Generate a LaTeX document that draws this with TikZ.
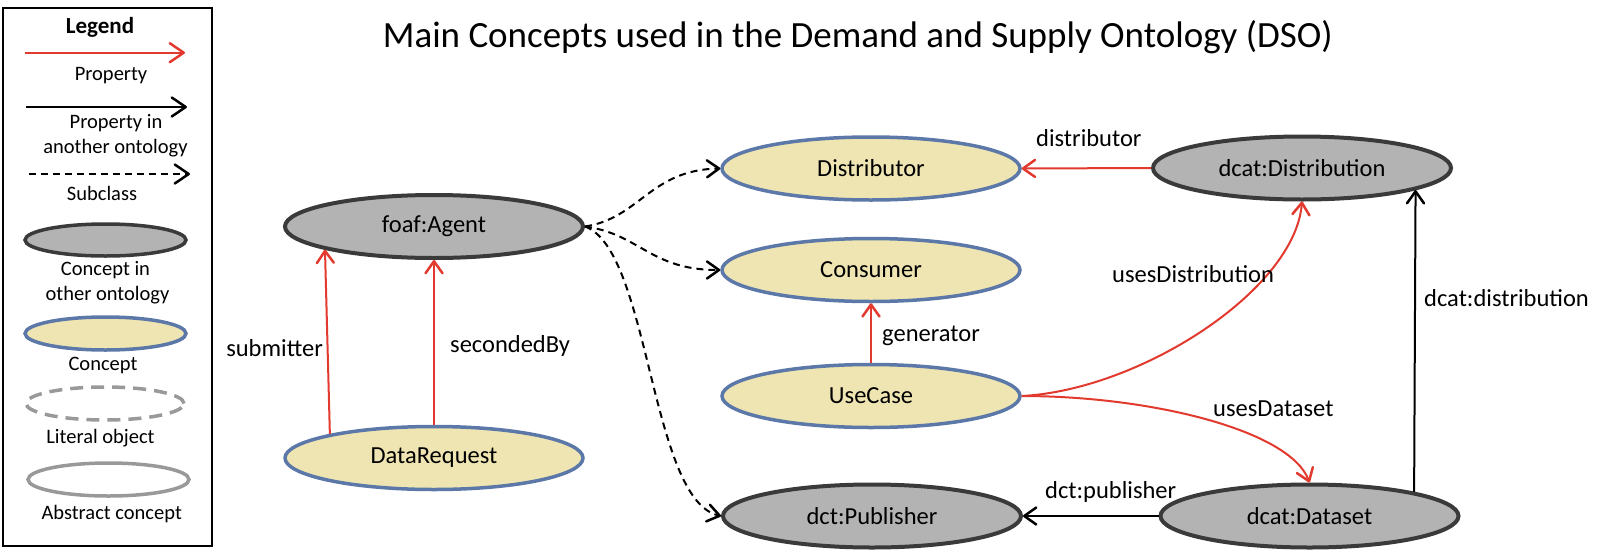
\documentclass[tikz,border=0pt]{standalone}
\usepackage{fontspec}
\setmainfont{Carlito}
\usetikzlibrary{arrows.meta,shapes.geometric}
\definecolor{cfill}{RGB}{239,229,179}
\definecolor{cborder}{RGB}{91,120,168}
\definecolor{gfill}{RGB}{179,179,179}
\definecolor{gborder}{RGB}{58,58,58}
\definecolor{propred}{RGB}{226,58,46}
\definecolor{litgray}{RGB}{153,153,153}
\tikzset{
  concept/.style={ellipse, draw=cborder, fill=cfill, line width=3.5pt,
    minimum width=298pt, minimum height=63pt, inner sep=0pt,
    font=\fontsize{24.5}{29}\selectfont},
  other/.style={concept, draw=gborder, fill=gfill, line width=4pt},
  opentip/.tip={Straight Barb[length=12pt,width=17pt,line width=0.5pt 1,round]},
  bigtip/.tip={Straight Barb[length=14pt,width=19pt,line width=0.5pt 1,round]},
  prop/.style={draw=propred, line width=2pt, -opentip},
  ext/.style={draw=black, line width=2pt, -opentip},
  subc/.style={draw=black, line width=2pt, dash pattern=on 7pt off 5pt, -opentip},
  lbl/.style={inner sep=0pt, font=\fontsize{24.5}{29}\selectfont},
  leg/.style={inner sep=0pt, anchor=base, font=\fontsize{20.5}{24}\selectfont},
}
\begin{document}
\begin{tikzpicture}[x=1pt,y=-1pt]
\useasboundingbox (0,0) rectangle (1610,552);
% title
\node[anchor=base west, inner sep=0pt, font=\fontsize{37}{44}\selectfont] (title) at (382.7,47.3)
  {Main Concepts used in the Demand and Supply Ontology (DSO)};
% legend
\draw[line width=2pt] (3,8) rectangle (212,546);
\node[leg, font=\bfseries\fontsize{23}{27}\selectfont] (legtitle) at (100,33.3) {Legend};
\coordinate (lra) at (25,52.7);  \coordinate (lrb) at (185,52.7);
\draw[draw=propred, line width=2pt, -bigtip] (lra) -- (lrb);
\node[leg] (lprop) at (111,80) {Property};
\coordinate (lba) at (26,107);  \coordinate (lbb) at (187,107);
\draw[draw=black, line width=2pt, -bigtip] (lba) -- (lbb);
\node[leg] (lext1) at (116,128.3) {Property in};
\node[leg] (lext2) at (115.5,153.3) {another ontology};
\coordinate (lda) at (29,174);  \coordinate (ldb) at (190,174);
\draw[draw=black, line width=2pt, dash pattern=on 7pt off 5pt, -bigtip] (lda) -- (ldb);
\node[leg] (lsub) at (102,200) {Subclass};
\node[other, minimum width=161pt, minimum height=32pt, line width=3.5pt] (lgo) at (105.5,240) {};
\node[leg] (lgo1) at (105.5,275) {Concept in};
\node[leg] (lgo2) at (107.5,300) {other ontology};
\node[concept, minimum width=161pt, minimum height=33pt] (lgc) at (105.5,333.5) {};
\node[leg] (lgct) at (103,370) {Concept};
\node[ellipse, draw=litgray, line width=3.5pt, dash pattern=on 13pt off 8pt,
  minimum width=158pt, minimum height=33pt, inner sep=0pt] (lgl) at (105,403.5) {};
\node[leg] (lglt) at (100.5,443.3) {Literal object};
\node[ellipse, draw=litgray, line width=3.5pt,
  minimum width=161pt, minimum height=33pt, inner sep=0pt] (lga) at (108.5,479.5) {};
\node[leg] (lgat) at (111.7,519.3) {Abstract concept};
% main nodes
\node[other]   (FA) at (434,226.5)  {foaf:Agent};
\node[concept] (DR) at (434,458)    {DataRequest};
\node[concept] (DI) at (871,168.5)  {Distributor};
\node[concept] (CO) at (871,270)    {Consumer};
\node[concept] (UC) at (871,396)    {UseCase};
\node[other]   (PU) at (872,516)    {dct:Publisher};
\node[other]   (DD) at (1302,168)   {dcat:Distribution};
\node[other]   (DS) at (1309.5,516) {dcat:Dataset};
% properties
\draw[prop] (DR.167.4) -- (FA.192.6);
\draw[prop] (DR.north) -- (FA.south);
\draw[prop] (UC.north) -- (CO.south);
\draw[prop] (DD.west) -- (DI.east);
\draw[prop] (UC.east) .. controls (1140,390) and (1295,290) .. (DD.south);
\draw[prop] (UC.east) .. controls (1150,396) and (1290,430) .. (DS.north);
\draw[ext] (DS.13.3) -- (DD.-11.6);
\draw[ext] (DS.west) -- (PU.east);
% subclasses
\draw[subc] (FA.east) .. controls (640,218) and (650,170) .. (DI.west);
\draw[subc] (FA.east) .. controls (640,234) and (650,270) .. (CO.west);
\draw[subc] (FA.east) .. controls (650,250) and (650,500) .. (PU.west);
% labels
\node[lbl, anchor=base east] (lsubm) at (323,356.7) {submitter};
\node[lbl, anchor=base west] (lsec) at (450,352.7) {secondedBy};
\node[lbl, anchor=base west] (lgen) at (882,341) {generator};
\node[lbl, anchor=base west] (ldis) at (1036,146.7) {distributor};
\node[lbl, anchor=base west] (lud) at (1112,282.7) {usesDistribution};
\node[lbl, anchor=base west] (ldd) at (1424,306.7) {dcat:distribution};
\node[lbl, anchor=base west] (luds) at (1213,416) {usesDataset};
\node[lbl, anchor=base west] (lpub) at (1045,498.3) {dct:publisher};
\end{tikzpicture}
\end{document}
